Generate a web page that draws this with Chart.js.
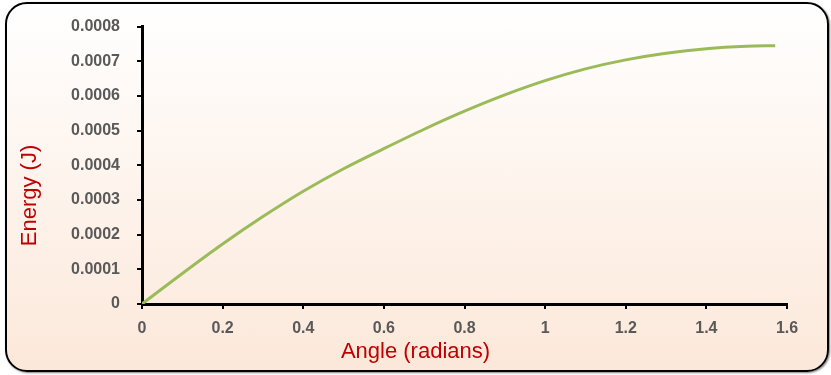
<script src="https://cdn.jsdelivr.net/npm/chart.js"></script>

<style>
  body { margin: 0; }
  #frame {
    position: absolute; left: 5px; top: 2px; width: 824px; height: 370px;
    box-sizing: border-box; border: 2.5px solid #000; border-radius: 22px;
    background: linear-gradient(#ffffff, #fce8da);
    box-shadow: 1px 1px 2px rgba(0,0,0,0.5);
  }
  #wrap { position: absolute; left: 0; top: 0; width: 831px; height: 375px; }
</style>

<div id="frame"></div>
<div id="wrap">
  <canvas id="myChart"></canvas>
</div>

<script>
// angle in radians
const angles = [0, 0.1, 0.2, 0.3, 0.4, 0.5, 0.6, 0.7, 0.8, 0.9, 1.0, 1.1, 1.2, 1.3, 1.4, 1.5, 1.5708];
// energy in joules
const energies = [0, 0.000088, 0.000173, 0.000252, 0.000325, 0.000390, 0.000448, 0.000504, 0.000556,
  0.000603, 0.000644, 0.000678, 0.000704, 0.000723, 0.000736, 0.000743, 0.000745];
const xTickLabels = ['0', '0.2', '0.4', '0.6', '0.8', '1', '1.2', '1.4', '1.6'];
const yTickLabels = ['0', '0.0001', '0.0002', '0.0003', '0.0004', '0.0005', '0.0006', '0.0007', '0.0008'];

const points = angles.map(function (a, i) { return { x: a, y: energies[i] }; });

const tickFont = { family: 'Liberation Sans', size: 16, weight: 'bold' };
const titleFont = { family: 'Liberation Sans', size: 22, weight: 'normal', lineHeight: '26px' };

const config = {
  type: 'line',
  data: {
    datasets: [{
      label: 'Energy',
      data: points,
      borderColor: '#9BBB59',
      borderWidth: 3,
      pointRadius: 0,
      cubicInterpolationMode: 'monotone',
      fill: false
    }]
  },
  options: {
    responsive: true,
    maintainAspectRatio: false,
    animation: false,
    layout: { padding: { top: 16, left: 0, right: 0, bottom: 0 } },
    plugins: {
      legend: { display: false },
      tooltip: { enabled: false },
      title: {
        display: true,
        position: 'bottom',
        text: 'Angle (radians)',
        color: '#C00000',
        font: titleFont,
        padding: { top: 0, bottom: 10 }
      },
      subtitle: {
        display: true,
        position: 'left',
        text: 'Energy (J)',
        color: '#C00000',
        font: titleFont,
        padding: { top: 17, bottom: 0 }
      }
    },
    scales: {
      x: {
        type: 'linear',
        min: 0,
        max: 1.6,
        grid: { display: true, drawOnChartArea: false, drawTicks: true, tickLength: 5, color: '#000', lineWidth: 2 },
        border: { color: '#000', width: 3 },
        ticks: {
          stepSize: 0.2,
          padding: 10,
          color: '#595959',
          font: tickFont,
          maxRotation: 0,
          callback: function (v, i) { return xTickLabels[i]; }
        },
        afterFit: function (s) { s.height = 35; }
      },
      y: {
        type: 'linear',
        min: 0,
        max: 0.0008,
        grid: { display: true, drawOnChartArea: false, drawTicks: true, tickLength: 5, color: '#000', lineWidth: 2 },
        border: { color: '#000', width: 3 },
        ticks: {
          stepSize: 0.0001,
          padding: 17,
          color: '#595959',
          font: tickFont,
          callback: function (v, i) { return yTickLabels[i]; }
        },
        afterFit: function (s) { s.width = 99; }
      },
      spacer: {
        type: 'linear',
        position: 'right',
        display: true,
        grid: { display: false },
        border: { display: false },
        ticks: { display: false },
        afterFit: function (s) { s.width = 44; }
      }
    }
  }
};

var myChart = new Chart(document.getElementById('myChart'), config);
</script>
